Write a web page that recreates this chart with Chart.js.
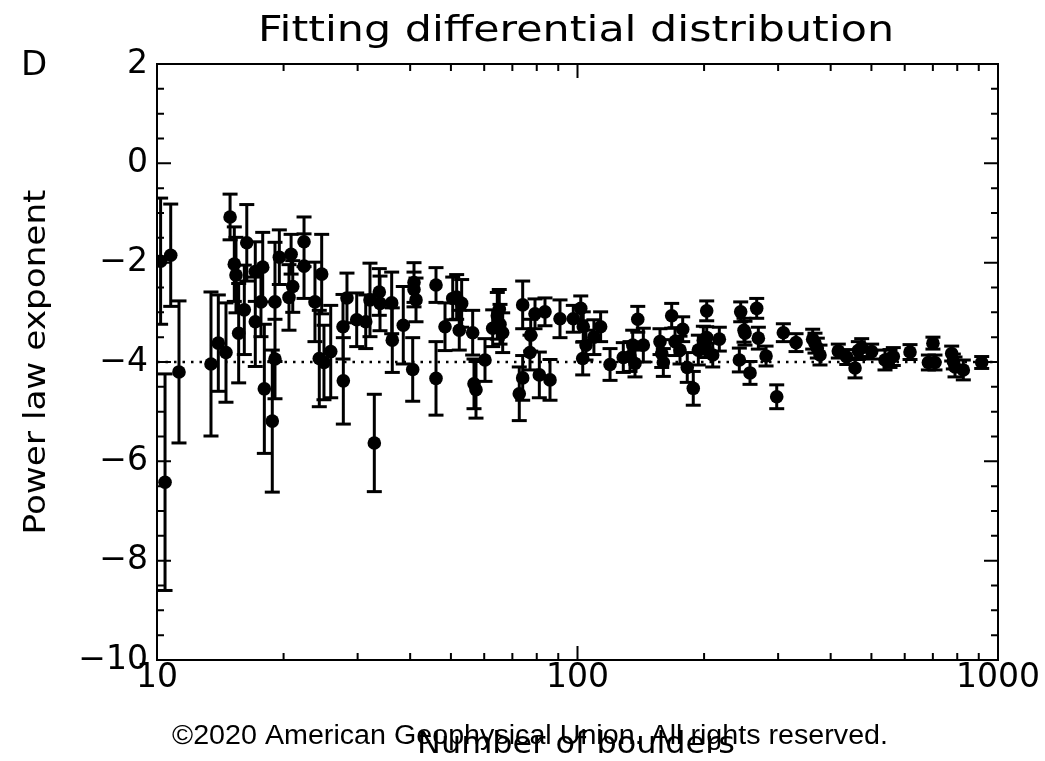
<!DOCTYPE html>
<html>
<head>
<meta charset="utf-8">
<script src="https://cdn.jsdelivr.net/npm/chart.js@4.4.1/dist/chart.umd.min.js"></script>
<style>
  html, body { margin: 0; padding: 0; background: #fff; }
  #wrap { width: 1045px; height: 761px; }
</style>
</head>
<body>
<div id="wrap"><canvas id="chart" width="1045" height="761"></canvas></div>
<script>
// number of boulders per fit (x), fitted exponent (y), 1-sigma error
const boulders = [
  10.2, 10.45, 10.78, 11.28, 13.44, 13.99, 14.59, 14.92, 15.27, 15.41,
  15.64, 16.35, 16.13, 17.13, 17.13, 17.84, 17.67, 18.0, 19.08, 19.54,
  18.8, 19.08, 20.84, 21.03, 20.6, 22.37, 22.37, 24.64, 23.75, 24.32,
  24.95, 25.89, 27.69, 28.3, 27.74, 29.85, 31.36, 32.1, 33.78, 33.91,
  36.15, 36.27, 32.87, 38.52, 40.56, 40.85, 40.85, 41.3, 46.08, 46.08,
  48.41, 50.5, 51.6, 53.03, 52.34, 56.33, 56.74, 57.36, 60.26, 62.85,
  64.46, 65.42, 66.39, 65.16, 72.7, 74.07, 74.07, 77.4, 77.1, 79.24,
  81.14, 83.69, 86.02, 90.86, 97.73, 101.8, 103.2, 104.76, 102.9, 109.4,
  113.5, 119.5, 128.5, 133.3, 135.3, 139.1, 137.0, 143.4, 157.1, 158.6,
  160.0, 167.5, 170.6, 177.9, 175.3, 182.4, 188.5, 193.8, 199.2, 202.9,
  202.9, 201.1, 209.7, 217.4, 244.4, 266.8, 248.9, 250.2, 242.6, 257.2,
  269.2, 280.8, 297.7, 308.7, 330.9, 362.5, 367.1, 371.8, 377.3, 417.1,
  436.8, 457.1, 465.4, 474.1, 500.7, 538.6, 553.6, 563.7, 617.7, 700.3,
  683.0, 708.1, 776.0, 783.0, 790.3, 827.0, 914.6
];
const exponent = [
  -1.97, -6.42, -1.85, -4.20, -4.04, -3.62, -3.81, -1.08, -2.03, -2.25,
  -3.42, -1.60, -2.95, -2.18, -3.19, -2.09, -2.79, -4.54, -2.79, -1.89,
  -5.19, -3.94, -1.83, -2.48, -2.70, -1.58, -2.07, -2.23, -2.79, -3.93,
  -4.01, -3.79, -3.29, -2.71, -4.38, -3.15, -3.19, -2.75, -2.59, -2.82,
  -2.81, -3.56, -5.63, -3.26, -4.15, -2.40, -2.54, -2.75, -2.45, -4.33,
  -3.29, -2.72, -2.69, -2.82, -3.36, -3.41, -4.44, -4.56, -3.96, -3.32,
  -3.07, -3.24, -3.41, -2.94, -4.64, -4.32, -2.85, -3.46, -3.81, -3.03,
  -4.26, -2.99, -4.36, -3.13, -3.13, -2.92, -3.29, -3.66, -3.93, -3.50,
  -3.29, -4.05, -3.91, -3.89, -3.66, -3.14, -4.03, -3.66, -3.59, -3.83,
  -4.01, -3.07, -3.59, -3.34, -3.76, -4.11, -4.53, -3.76, -3.56, -2.97,
  -3.51, -3.69, -3.86, -3.54, -2.99, -2.92, -3.36, -3.42, -3.96, -4.22,
  -3.52, -3.88, -4.70, -3.41, -3.61, -3.54, -3.62, -3.72, -3.86, -3.78,
  -3.90, -4.12, -3.77, -3.71, -3.79, -3.96, -3.93, -3.89, -3.80, -3.62,
  -4.01, -4.01, -3.83, -3.99, -4.10, -4.16, -4.01
];
const sigma = [
  1.27, 2.18, 1.03, 1.43, 1.45, 0.97, 1.00, 0.46, 0.75, 0.76,
  1.00, 0.77, 0.90, 0.60, 0.90, 0.70, 0.70, 1.30, 1.20, 0.55,
  1.43, 0.80, 0.40, 0.52, 0.66, 0.50, 0.65, 0.80, 0.80, 0.97,
  0.75, 0.93, 0.65, 0.50, 0.87, 0.54, 0.54, 0.74, 0.47, 0.55,
  0.62, 0.65, 0.98, 0.78, 0.64, 0.40, 0.35, 0.44, 0.35, 0.74,
  0.48, 0.43, 0.45, 0.48, 0.40, 0.45, 0.50, 0.57, 0.43, 0.37,
  0.47, 0.40, 0.40, 0.40, 0.54, 0.45, 0.48, 0.32, 0.35, 0.30,
  0.46, 0.28, 0.41, 0.38, 0.27, 0.25, 0.30, 0.30, 0.33, 0.35,
  0.30, 0.32, 0.30, 0.30, 0.30, 0.26, 0.27, 0.34, 0.26, 0.28,
  0.28, 0.25, 0.28, 0.25, 0.28, 0.30, 0.34, 0.30, 0.28, 0.20,
  0.22, 0.22, 0.24, 0.24, 0.20, 0.20, 0.24, 0.24, 0.24, 0.23,
  0.22, 0.20, 0.24, 0.18, 0.18, 0.20, 0.20, 0.20, 0.20, 0.14,
  0.15, 0.20, 0.18, 0.18, 0.15, 0.20, 0.18, 0.18, 0.15, 0.12,
  0.15, 0.15, 0.15, 0.15, 0.20, 0.20, 0.12
];
const refSlope = -4;
const xTickLabels = [10, 100, 1000];
const xMinorTicks = [20, 30, 40, 50, 60, 70, 80, 90, 200, 300, 400, 500, 600, 700, 800, 900];
const yTickLabels = [2, 0, -2, -4, -6, -8, -10];

const font = 'DejaVu Sans';

const points = boulders.map((n, i) => ({ x: n, y: exponent[i] }));
const bars = [];
const caps = [];
boulders.forEach((n, i) => {
  bars.push({ x: n, y: exponent[i] - sigma[i] }, { x: n, y: exponent[i] + sigma[i] }, { x: n, y: null });
  caps.push({ x: n, y: exponent[i] - sigma[i] }, { x: n, y: exponent[i] + sigma[i] });
});

// box, inward ticks, and the text around the plot
const frame = {
  id: 'frame',
  afterDraw(chart) {
    const { ctx, chartArea: a, scales } = chart;
    const xs = scales.x, ys = scales.y;
    ctx.save();
    ctx.strokeStyle = '#000';
    ctx.lineWidth = 2;
    ctx.strokeRect(a.left, a.top, a.right - a.left, a.bottom - a.top);
    ctx.beginPath();
    const xt = (v, len) => {
      const p = xs.getPixelForValue(v);
      ctx.moveTo(p, a.bottom); ctx.lineTo(p, a.bottom - len);
      ctx.moveTo(p, a.top); ctx.lineTo(p, a.top + len);
    };
    xTickLabels.forEach(v => xt(v, 14));
    xMinorTicks.forEach(v => xt(v, 7));
    for (let v = -10; v <= 2.001; v += 0.5) {
      const p = ys.getPixelForValue(v);
      const len = Math.abs(v % 2) < 1e-6 ? 14 : 7;
      ctx.moveTo(a.left, p); ctx.lineTo(a.left + len, p);
      ctx.moveTo(a.right, p); ctx.lineTo(a.right - len, p);
    }
    ctx.stroke();

    ctx.fillStyle = '#000';
    ctx.textAlign = 'center';
    ctx.textBaseline = 'middle';
    const fitText = (txt, x, y, size, w, fam) => {
      ctx.font = size + 'px ' + (fam || font);
      const m = ctx.measureText(txt).width;
      ctx.save();
      ctx.translate(x, y);
      ctx.scale(w / m, 1);
      ctx.fillText(txt, 0, 0);
      ctx.restore();
    };
    fitText('Fitting differential distribution', 576, 32, 36, 636);
    ctx.font = '34px ' + font;
    ctx.fillText('D', 34, 66);
    ctx.save();
    ctx.translate(37, 362);
    ctx.rotate(-Math.PI / 2);
    fitText('Power law exponent', 0, 0, 31, 345);
    ctx.restore();
    fitText('Number of boulders', 576, 745, 31, 318);
    fitText('\u00a92020 American Geophysical Union. All rights reserved.', 530, 737, 27, 716, 'Liberation Sans');
    ctx.restore();
  }
};

new Chart(document.getElementById('chart'), {
  type: 'scatter',
  data: {
    datasets: [
      {
        type: 'line', data: [{ x: 10, y: refSlope }, { x: 1000, y: refSlope }],
        borderColor: '#000', borderWidth: 2.5, borderDash: [2.5, 6], pointRadius: 0
      },
      {
        type: 'line', data: bars, borderColor: '#000', borderWidth: 3,
        pointRadius: 0, spanGaps: false
      },
      {
        data: caps, pointStyle: 'line', pointRadius: 7.5, borderColor: '#000', borderWidth: 3
      },
      {
        data: points, pointRadius: 6.8, backgroundColor: '#000', borderColor: '#000', borderWidth: 0
      }
    ]
  },
  options: {
    responsive: false,
    animation: false,
    devicePixelRatio: 1,
    layout: { padding: { top: 64, right: 47, left: 0, bottom: 0 } },
    plugins: { legend: { display: false }, tooltip: { enabled: false } },
    scales: {
      x: {
        type: 'logarithmic', min: 10, max: 1000,
        grid: { display: false }, border: { display: false },
        afterBuildTicks: s => { s.ticks = xTickLabels.map(v => ({ value: v })); },
        afterFit: s => { s.height = 101; },
        ticks: {
          autoSkip: false, maxRotation: 0, padding: -9, color: '#000',
          font: { family: font, size: 33 },
          callback: v => String(v)
        }
      },
      y: {
        min: -10, max: 2,
        grid: { display: false }, border: { display: false },
        afterBuildTicks: s => { s.ticks = yTickLabels.map(v => ({ value: v })); },
        afterFit: s => { s.width = 157; },
        ticks: {
          autoSkip: false, padding: 1, color: '#000',
          font: { family: font, size: 33 },
          callback: v => String(v).replace('-', '\u2212')
        }
      }
    }
  },
  plugins: [frame]
});
</script>
</body>
</html>
